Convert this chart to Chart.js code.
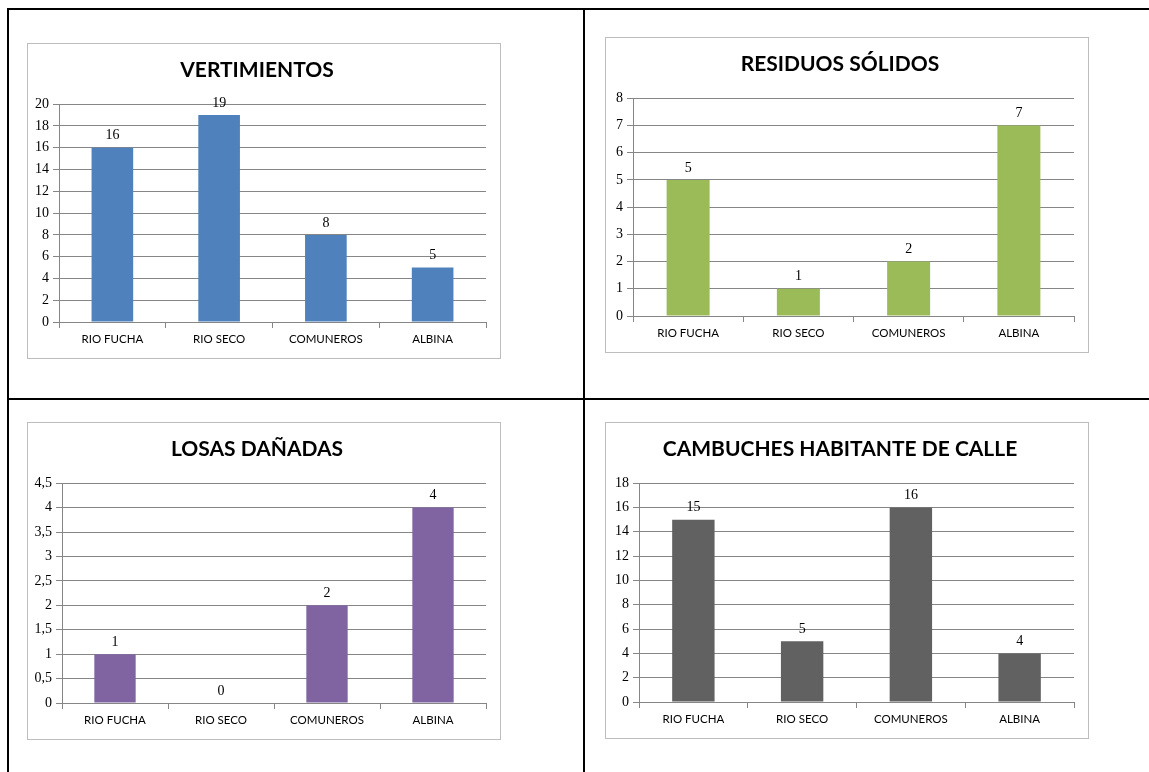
<!DOCTYPE html>
<html>
<head>
<meta charset="utf-8">
<script src="https://cdn.jsdelivr.net/npm/chart.js@4"></script>
<style>
  body { margin: 0; background: #fff; width: 1149px; height: 772px; overflow: hidden; position: relative; }
  .line { position: absolute; background: #000; }
  .box { position: absolute; box-sizing: border-box; border: 1px solid #bdbdbd; background: #fff; }
</style>
</head>
<body>
<div class="line" style="left:7px;top:8px;width:1142px;height:2px"></div>
<div class="line" style="left:7px;top:398px;width:1142px;height:2px"></div>
<div class="line" style="left:7px;top:8px;width:2px;height:764px"></div>
<div class="line" style="left:583px;top:8px;width:2px;height:764px"></div>

<div class="box" style="left:27px;top:43px;width:474px;height:316px"><canvas id="c1"></canvas></div>
<div class="box" style="left:605px;top:37px;width:484px;height:316px"><canvas id="c2"></canvas></div>
<div class="box" style="left:27px;top:422px;width:474px;height:318px"><canvas id="c3"></canvas></div>
<div class="box" style="left:605px;top:422px;width:484px;height:317px"><canvas id="c4"></canvas></div>

<script>
const categories = ['RIO FUCHA', 'RIO SECO', 'COMUNEROS', 'ALBINA'];

const vertimientos = [16, 19, 8, 5];
const residuosSolidos = [5, 1, 2, 7];
const losasDanadas = [1, 0, 2, 4];
const cambuches = [15, 5, 16, 4];

const titles = ['VERTIMIENTOS', 'RESIDUOS SÓLIDOS', 'LOSAS DAÑADAS', 'CAMBUCHES HABITANTE DE CALLE'];
const yMax = [20, 8, 4.5, 18];
const yStep = [2, 1, 0.5, 2];

const gridColor = '#868686';

// value labels above each bar
const barValues = {
    id: 'barValues',
    afterDatasetsDraw(chart) {
        let ctx = chart.ctx;
        let meta = chart.getDatasetMeta(0);
        ctx.save();
        ctx.font = '14px "Liberation Serif"';
        ctx.fillStyle = '#000';
        ctx.textAlign = 'center';
        ctx.textBaseline = 'bottom';
        meta.data.forEach((bar, i) => {
            ctx.fillText(chart.data.datasets[0].data[i], bar.x, bar.y - 5);
        });
        ctx.restore();
    }
};

function makeChart(id, values, color, idx, axisWidth) {
    new Chart(document.getElementById(id), {
        type: 'bar',
        data: {
            labels: categories,
            datasets: [{
                data: values,
                backgroundColor: color,
                barPercentage: 0.39,
                categoryPercentage: 1
            }]
        },
        options: {
            responsive: true,
            maintainAspectRatio: false,
            animation: false,
            layout: { padding: { left: 0, right: 14, top: 0, bottom: 0 } },
            plugins: {
                legend: { display: false },
                tooltip: { enabled: false },
                title: {
                    display: true,
                    text: titles[idx],
                    color: '#000',
                    font: { family: 'Lato', size: 21, weight: 'bold', lineHeight: 1.2 },
                    padding: { top: 14, bottom: 21 }
                }
            },
            scales: {
                x: {
                    afterFit: (s) => { s.height = 36; },
                    grid: { offset: true, drawOnChartArea: false, drawTicks: true, tickLength: 6, color: gridColor },
                    border: { color: gridColor },
                    ticks: { color: '#000', padding: 4, font: { family: 'Lato', size: 11.5 } }
                },
                y: {
                    min: 0,
                    max: yMax[idx],
                    afterFit: (s) => { s.width = axisWidth; },
                    grid: { color: gridColor, tickLength: 6 },
                    border: { color: gridColor },
                    ticks: {
                        stepSize: yStep[idx],
                        color: '#000',
                        padding: 4,
                        font: { family: 'Liberation Serif', size: 14 },
                        callback: (v) => String(v).replace('.', ',')
                    }
                }
            }
        },
        plugins: [barValues]
    });
}

makeChart('c1', vertimientos, '#4f81bd', 0, 31);
makeChart('c2', residuosSolidos, '#9bbb59', 1, 27);
makeChart('c3', losasDanadas, '#8064a2', 2, 34);
makeChart('c4', cambuches, '#616161', 3, 33);
</script>
</body>
</html>
